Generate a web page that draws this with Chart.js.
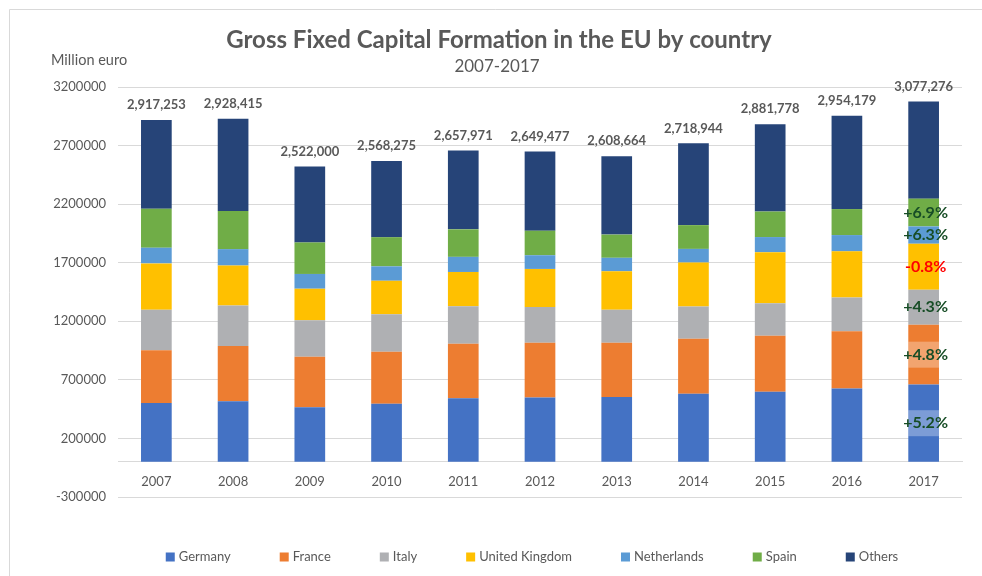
<!DOCTYPE html>
<html>
<head>
<meta charset="utf-8">
<script src="https://cdn.jsdelivr.net/npm/chart.js@4/dist/chart.umd.min.js"></script>
<style>
  html, body { margin: 0; padding: 0; background: #ffffff; }
  #wrap { width: 982px; height: 576px; position: relative; }
</style>
</head>
<body>
<div id="wrap"><canvas id="c" width="982" height="576"></canvas></div>
<script>
// ---------------- DATA ----------------
const categories = ['2007','2008','2009','2010','2011','2012','2013','2014','2015','2016','2017'];
const germany     = [502000, 518000, 467000, 495000, 544000, 550000, 553000, 581000, 599000, 627000, 660000];
const france      = [450000, 470000, 430000, 444000, 464000, 467000, 464000, 470000, 478000, 487000, 510000];
const italy       = [347000, 347000, 312000, 321000, 321000, 304000, 281000, 275000, 278000, 288000, 300000];
const unitedKingdom = [395000, 341000, 269000, 286000, 292000, 326000, 329000, 375000, 435000, 395000, 392000];
const netherlands = [134000, 140000, 126000, 123000, 129000, 117000, 115000, 117000, 129000, 139000, 148000];
const spain       = [333000, 326000, 269000, 249000, 235000, 209000, 198000, 203000, 218000, 222000, 237000];
const others      = [756253, 786415, 649000, 650275, 672971, 676477, 668664, 697944, 744778, 796179, 830276];
const seriesNames = ['Germany','France','Italy','United Kingdom','Netherlands','Spain','Others'];
const growth2017  = ['+5.2%','+4.8%','+4.3%','-0.8%','+6.3%','+6.9%', null];
const yTickMin = -300000, yTickMax = 3200000, yTickStep = 500000;

// ---------------- STYLE ----------------
const colors = ['#4472C4','#ED7D31','#AFB0B3','#FFC000','#5B9BD5','#70AD47','#264478'];
const FONT = 'Lato, "Open Sans", sans-serif';
const GREY = '#595959';

const seriesValues = [germany, france, italy, unitedKingdom, netherlands, spain, others];
const datasets = seriesNames.map((n, i) => ({
  label: n,
  data: seriesValues[i],
  backgroundColor: colors[i],
  borderWidth: 0,
  categoryPercentage: 1.0,
  barPercentage: 0.4
}));

const decorPlugin = {
  id: 'decor',
  beforeDraw(chart) {
    const ctx = chart.ctx;
    ctx.save();
    ctx.fillStyle = '#ffffff';
    ctx.fillRect(0, 0, chart.width, chart.height);
    ctx.strokeStyle = '#d9d9d9';
    ctx.lineWidth = 1;
    ctx.beginPath();
    ctx.moveTo(9.5, chart.height);
    ctx.lineTo(9.5, 9.5);
    ctx.lineTo(chart.width, 9.5);
    ctx.stroke();
    ctx.restore();
  },
  afterDraw(chart) {
    const ctx = chart.ctx;
    ctx.save();
    // Titles
    ctx.fillStyle = GREY;
    ctx.textAlign = 'center';
    ctx.textBaseline = 'middle';
    ctx.font = 'bold 24px ' + FONT;
    ctx.fillText('Gross Fixed Capital Formation in the EU by country', 499, 40);
    ctx.font = '17px ' + FONT;
    ctx.fillText('2007-2017', 497, 67);
    ctx.textAlign = 'left';
    ctx.font = '14.5px ' + FONT;
    ctx.fillText('Million euro', 51, 60);

    // Totals above bars
    const topMeta = chart.getDatasetMeta(chart.data.datasets.length - 1);
    ctx.textAlign = 'center';
    ctx.font = 'bold 13px ' + FONT;
    ctx.fillStyle = GREY;
    categories.forEach((c, i) => {
      const total = seriesValues.reduce((s, arr) => s + arr[i], 0);
      const el = topMeta.data[i];
      ctx.fillText(total.toLocaleString('en-US'), el.x, el.y - 15);
    });

    // 2017 growth annotations
    const last = categories.length - 1;
    growth2017.forEach((g, di) => {
      if (!g) return;
      const el = chart.getDatasetMeta(di).data[last];
      const cy = (el.y + el.base) / 2;
      if (di === 0 || di === 1) {
        ctx.fillStyle = 'rgba(255,255,255,0.3)';
        ctx.fillRect(el.x - el.width / 2, cy - 13, el.width, 26);
      }
      ctx.font = 'bold 16px ' + FONT;
      ctx.fillStyle = g.startsWith('-') ? '#FF0000' : '#174D26';
      ctx.fillText(g, el.x + 2, cy);
    });

    // Legend
    ctx.font = '13px ' + FONT;
    ctx.textBaseline = 'middle';
    const box = 9, gapBT = 4, gapItem = 49;
    const widths = chart.data.datasets.map(d => box + gapBT + ctx.measureText(d.label).width);
    const totalW = widths.reduce((a, b) => a + b, 0) + gapItem * (widths.length - 1);
    let x = 532 - totalW / 2;
    const ly = 557;
    chart.data.datasets.forEach((d, i) => {
      ctx.fillStyle = d.backgroundColor;
      ctx.fillRect(x, ly - 4.5, box, box);
      ctx.fillStyle = GREY;
      ctx.textAlign = 'left';
      ctx.fillText(d.label, x + box + gapBT, ly);
      x += widths[i] + gapItem;
    });
    ctx.restore();
  }
};

new Chart(document.getElementById('c'), {
  type: 'bar',
  data: { labels: categories, datasets },
  options: {
    responsive: false,
    animation: false,
    layout: { padding: { top: 87, right: 20, bottom: 79, left: 0 } },
    plugins: {
      legend: { display: false },
      title: { display: false },
      tooltip: { enabled: false }
    },
    scales: {
      x: {
        type: 'category',
        stacked: true,
        position: { y: 0 },
        grid: { display: false, drawTicks: false },
        border: { display: true, color: '#d9d9d9', width: 1 },
        ticks: { color: GREY, font: { family: FONT, size: 13 }, padding: 12, maxRotation: 0 }
      },
      y: {
        stacked: true,
        min: yTickMin,
        max: yTickMax,
        afterFit(scale) { scale.width = 118; },
        grid: { color: '#d9d9d9', lineWidth: 1, drawTicks: false },
        border: { display: false },
        ticks: {
          stepSize: yTickStep,
          color: GREY,
          font: { family: FONT, size: 13 },
          padding: 12,
          callback: v => String(v)
        }
      }
    }
  },
  plugins: [decorPlugin]
});
</script>
</body>
</html>
